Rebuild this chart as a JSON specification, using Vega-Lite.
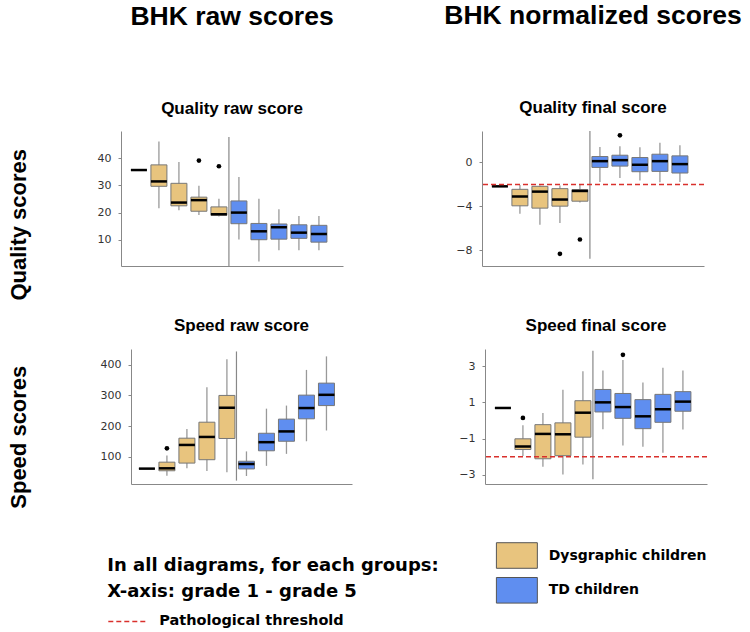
{
  "$schema": "https://vega.github.io/schema/vega-lite/v6.json",
  "padding": {"left": 7, "top": 2, "right": 0, "bottom": 0},
  "background": "white",
  "config": {
    "view": {"stroke": null},
    "font": "Liberation Sans",
    "axisY": {"grid": false, "tickSize": 3, "tickColor": "#888", "domainColor": "#888", "labelFont": "DejaVu Sans", "labelFontSize": 11, "labelColor": "#333", "labelPadding": 7, "titleFont": "Liberation Sans", "titleFontSize": 22, "titleFontWeight": "bold", "titleColor": "black", "titleAngle": 270, "titleBaseline": "alphabetic", "titleAlign": "center"},
    "axisX": {"grid": false, "ticks": false, "labels": false, "domainColor": "#888"},
    "title": {"font": "Liberation Sans", "fontWeight": "bold", "color": "black", "anchor": "middle", "frame": "group", "subtitleFont": "Liberation Sans", "subtitleFontWeight": "bold", "subtitleColor": "black", "subtitleFontSize": 17, "subtitlePadding": 71, "offset": 14}
  },
  "datasets": {
    "QR": [
      {"group": "Dysgraphic children", "grade": 1, "lo": 35.7, "q1": 35.7, "med": 35.7, "q3": 35.7, "hi": 35.7},
      {"group": "Dysgraphic children", "grade": 2, "lo": 21.6, "q1": 29.7, "med": 31.5, "q3": 37.6, "hi": 46.2},
      {"group": "Dysgraphic children", "grade": 3, "lo": 20.9, "q1": 22.5, "med": 23.7, "q3": 30.8, "hi": 38.7},
      {"group": "Dysgraphic children", "grade": 4, "lo": 19.1, "q1": 20.5, "med": 24.6, "q3": 25.7, "hi": 29.9},
      {"group": "Dysgraphic children", "grade": 5, "lo": 18.6, "q1": 19.0, "med": 19.4, "q3": 22.1, "hi": 25.1},
      {"group": "TD children", "grade": 1, "lo": 10.1, "q1": 15.9, "med": 20.0, "q3": 24.3, "hi": 33.1},
      {"group": "TD children", "grade": 2, "lo": 2.0, "q1": 10.0, "med": 13.1, "q3": 16.0, "hi": 25.1},
      {"group": "TD children", "grade": 3, "lo": 6.1, "q1": 10.2, "med": 14.6, "q3": 15.8, "hi": 21.2},
      {"group": "TD children", "grade": 4, "lo": 6.1, "q1": 10.5, "med": 12.6, "q3": 15.5, "hi": 18.7},
      {"group": "TD children", "grade": 5, "lo": 6.1, "q1": 9.1, "med": 12.1, "q3": 15.3, "hi": 18.7}
    ],
    "QR_out": [
      {"group": "Dysgraphic children", "grade": 4, "value": 39.2},
      {"group": "Dysgraphic children", "grade": 5, "value": 37.1}
    ],
    "QF": [
      {"group": "Dysgraphic children", "grade": 1, "lo": -2.17, "q1": -2.17, "med": -2.17, "q3": -2.17, "hi": -2.17},
      {"group": "Dysgraphic children", "grade": 2, "lo": -4.66, "q1": -3.94, "med": -3.10, "q3": -2.44, "hi": -2.05},
      {"group": "Dysgraphic children", "grade": 3, "lo": -5.65, "q1": -4.15, "med": -2.65, "q3": -2.17, "hi": -2.1},
      {"group": "Dysgraphic children", "grade": 4, "lo": -5.5, "q1": -3.97, "med": -3.37, "q3": -2.38, "hi": -2.1},
      {"group": "Dysgraphic children", "grade": 5, "lo": -3.64, "q1": -3.52, "med": -2.59, "q3": -2.47, "hi": -2.0},
      {"group": "TD children", "grade": 1, "lo": -1.77, "q1": -0.45, "med": 0.12, "q3": 0.54, "hi": 1.41},
      {"group": "TD children", "grade": 2, "lo": -1.41, "q1": -0.33, "med": 0.21, "q3": 0.66, "hi": 1.47},
      {"group": "TD children", "grade": 3, "lo": -1.65, "q1": -0.84, "med": -0.21, "q3": 0.45, "hi": 1.38},
      {"group": "TD children", "grade": 4, "lo": -1.8, "q1": -0.81, "med": 0.12, "q3": 0.75, "hi": 1.8},
      {"group": "TD children", "grade": 5, "lo": -1.77, "q1": -0.96, "med": -0.15, "q3": 0.6, "hi": 1.56}
    ],
    "QF_out": [
      {"group": "Dysgraphic children", "grade": 4, "value": -8.3},
      {"group": "Dysgraphic children", "grade": 5, "value": -7.0},
      {"group": "TD children", "grade": 2, "value": 2.47}
    ],
    "SR": [
      {"group": "Dysgraphic children", "grade": 1, "lo": 62, "q1": 62, "med": 62, "q3": 62, "hi": 62},
      {"group": "Dysgraphic children", "grade": 2, "lo": 39, "q1": 55, "med": 63, "q3": 83, "hi": 105},
      {"group": "Dysgraphic children", "grade": 3, "lo": 63, "q1": 80, "med": 139, "q3": 161, "hi": 191},
      {"group": "Dysgraphic children", "grade": 4, "lo": 54, "q1": 91, "med": 165, "q3": 213, "hi": 327},
      {"group": "Dysgraphic children", "grade": 5, "lo": 50, "q1": 160, "med": 260, "q3": 300, "hi": 418},
      {"group": "TD children", "grade": 1, "lo": 38, "q1": 61, "med": 77, "q3": 86, "hi": 118},
      {"group": "TD children", "grade": 2, "lo": 71, "q1": 120, "med": 148, "q3": 177, "hi": 257},
      {"group": "TD children", "grade": 3, "lo": 110, "q1": 151, "med": 183, "q3": 223, "hi": 267},
      {"group": "TD children", "grade": 4, "lo": 151, "q1": 224, "med": 259, "q3": 301, "hi": 383},
      {"group": "TD children", "grade": 5, "lo": 186, "q1": 267, "med": 302, "q3": 340, "hi": 427}
    ],
    "SR_out": [
      {"group": "Dysgraphic children", "grade": 2, "value": 128}
    ],
    "SF": [
      {"group": "Dysgraphic children", "grade": 1, "lo": 0.69, "q1": 0.69, "med": 0.69, "q3": 0.69, "hi": 0.69},
      {"group": "Dysgraphic children", "grade": 2, "lo": -1.96, "q1": -1.6, "med": -1.43, "q3": -1.01, "hi": -0.26},
      {"group": "Dysgraphic children", "grade": 3, "lo": -2.55, "q1": -2.11, "med": -0.74, "q3": -0.23, "hi": 0.41},
      {"group": "Dysgraphic children", "grade": 4, "lo": -2.97, "q1": -1.94, "med": -0.76, "q3": -0.13, "hi": 1.7},
      {"group": "Dysgraphic children", "grade": 5, "lo": -2.42, "q1": -0.92, "med": 0.43, "q3": 1.09, "hi": 2.72},
      {"group": "TD children", "grade": 1, "lo": -0.48, "q1": 0.47, "med": 1.0, "q3": 1.71, "hi": 2.76},
      {"group": "TD children", "grade": 2, "lo": -1.38, "q1": 0.12, "med": 0.74, "q3": 1.49, "hi": 3.34},
      {"group": "TD children", "grade": 3, "lo": -1.45, "q1": -0.45, "med": 0.23, "q3": 1.15, "hi": 2.1},
      {"group": "TD children", "grade": 4, "lo": -1.78, "q1": -0.1, "med": 0.62, "q3": 1.44, "hi": 2.9},
      {"group": "TD children", "grade": 5, "lo": -0.5, "q1": 0.51, "med": 1.04, "q3": 1.59, "hi": 2.76}
    ],
    "SF_out": [
      {"group": "Dysgraphic children", "grade": 2, "value": 0.14},
      {"group": "TD children", "grade": 2, "value": 3.62}
    ]
  },
  "spacing": 16,
  "columns": 1,
  "align": "none",
  "concat": [
    {
      "spacing": 101,
      "hconcat": [
        {
          "width": 222, "height": 135,
          "title": {"text": "BHK raw scores", "subtitle": "Quality raw score", "fontSize": 26.5},
          "data": {"name": "QR"},
          "layer": [
            {"data": {"values": [{}]}, "mark": {"type": "rule", "color": "#888", "strokeWidth": 1.2},
             "encoding": {"x": {"datum": "Dysgraphic children", "type": "nominal", "bandPosition": 1, "scale": {"type": "band", "domain": ["Dysgraphic children", "TD children"], "paddingInner": 0, "paddingOuter": 0.11, "align": 0.36}, "axis": {"title": null, "labels": false, "ticks": false, "domainColor": "#888"}},
                          "y": {"datum": 47.9, "type": "quantitative", "scale": {"domain": [0.3, 50.1], "nice": false, "zero": false}, "axis": {"values": [10, 20, 30, 40], "title": "Quality scores", "titleX": -95.7, "titleY": 93.3}}, "y2": {"datum": 0.3}}},
            {"mark": {"type": "rule", "color": "#999", "strokeWidth": 1.3},
             "encoding": {"x": {"field": "group", "type": "nominal", "scale": {"type": "band", "domain": ["Dysgraphic children", "TD children"], "paddingInner": 0, "paddingOuter": 0.11, "align": 0.36}, "axis": {"title": null, "labels": false, "ticks": false, "domainColor": "#888"}},
                          "xOffset": {"field": "grade", "type": "ordinal", "scale": {"type": "band", "domain": [1, 2, 3, 4, 5], "paddingInner": 0.2, "paddingOuter": 0.1}},
                          "y": {"field": "lo", "type": "quantitative", "scale": {"domain": [0.3, 50.1], "nice": false, "zero": false}, "axis": {"values": [10, 20, 30, 40], "title": "Quality scores", "titleX": -95.7, "titleY": 93.3}},
                          "y2": {"field": "hi"}}},
            {"mark": {"type": "bar", "stroke": "#777", "strokeWidth": 1},
             "encoding": {"x": {"field": "group", "type": "nominal", "scale": {"type": "band", "domain": ["Dysgraphic children", "TD children"], "paddingInner": 0, "paddingOuter": 0.11, "align": 0.36}, "axis": {"title": null, "labels": false, "ticks": false, "domainColor": "#888"}},
                          "xOffset": {"field": "grade", "type": "ordinal", "scale": {"type": "band", "domain": [1, 2, 3, 4, 5], "paddingInner": 0.2, "paddingOuter": 0.1}},
                          "y": {"field": "q1", "type": "quantitative", "scale": {"domain": [0.3, 50.1], "nice": false, "zero": false}, "axis": {"values": [10, 20, 30, 40], "title": "Quality scores", "titleX": -95.7, "titleY": 93.3}},
                          "y2": {"field": "q3"},
                          "fill": {"field": "group", "type": "nominal", "scale": {"domain": ["Dysgraphic children", "TD children"], "range": ["#E8C47E", "#5F8EF0"]},
                                   "legend": {"title": null, "orient": "none", "legendX": 374.7, "legendY": 411, "padding": 0, "symbolType": "M-1,-1L2.2,-1L2.2,1L-1,1Z", "symbolSize": 655, "symbolStrokeColor": "#555", "symbolStrokeWidth": 1, "symbolOpacity": 1, "labelFont": "DejaVu Sans", "labelFontSize": 14, "labelFontWeight": "bold", "labelColor": "black", "labelOffset": 26, "labelLimit": 400, "rowPadding": 3.8}}}},
            {"mark": {"type": "tick", "color": "black", "orient": "horizontal", "size": 16, "thickness": 2.5, "opacity": 1},
             "encoding": {"x": {"field": "group", "type": "nominal", "scale": {"type": "band", "domain": ["Dysgraphic children", "TD children"], "paddingInner": 0, "paddingOuter": 0.11, "align": 0.36}, "axis": {"title": null, "labels": false, "ticks": false, "domainColor": "#888"}},
                          "xOffset": {"field": "grade", "type": "ordinal", "scale": {"type": "band", "domain": [1, 2, 3, 4, 5], "paddingInner": 0.2, "paddingOuter": 0.1}},
                          "y": {"field": "med", "type": "quantitative", "scale": {"domain": [0.3, 50.1], "nice": false, "zero": false}, "axis": {"values": [10, 20, 30, 40], "title": "Quality scores", "titleX": -95.7, "titleY": 93.3}}}},
            {"data": {"name": "QR_out"}, "mark": {"type": "point", "filled": true, "color": "black", "size": 22, "opacity": 1},
             "encoding": {"x": {"field": "group", "type": "nominal", "scale": {"type": "band", "domain": ["Dysgraphic children", "TD children"], "paddingInner": 0, "paddingOuter": 0.11, "align": 0.36}, "axis": {"title": null, "labels": false, "ticks": false, "domainColor": "#888"}},
                          "xOffset": {"field": "grade", "type": "ordinal", "scale": {"type": "band", "domain": [1, 2, 3, 4, 5], "paddingInner": 0.2, "paddingOuter": 0.1}},
                          "y": {"field": "value", "type": "quantitative", "scale": {"domain": [0.3, 50.1], "nice": false, "zero": false}, "axis": {"values": [10, 20, 30, 40], "title": "Quality scores", "titleX": -95.7, "titleY": 93.3}}}}
          ]
        },
        {
          "width": 222, "height": 135,
          "title": {"text": "BHK normalized scores", "subtitle": "Quality final score", "fontSize": 26.5},
          "data": {"name": "QF"},
          "layer": [
            {"data": {"values": [{}]}, "mark": {"type": "rule", "color": "#888", "strokeWidth": 1.2},
             "encoding": {"x": {"datum": "Dysgraphic children", "type": "nominal", "bandPosition": 1, "scale": {"type": "band", "domain": ["Dysgraphic children", "TD children"], "paddingInner": 0, "paddingOuter": 0.11, "align": 0.36}, "axis": {"title": null, "labels": false, "ticks": false, "domainColor": "#888"}},
                          "y": {"datum": 2.86, "type": "quantitative", "scale": {"domain": [-9.41, 2.86], "nice": false, "zero": false}, "axis": {"values": [-8, -4, 0], "title": null}}, "y2": {"datum": -8.75}}},
            {"mark": {"type": "rule", "color": "#999", "strokeWidth": 1.3},
             "encoding": {"x": {"field": "group", "type": "nominal", "scale": {"type": "band", "domain": ["Dysgraphic children", "TD children"], "paddingInner": 0, "paddingOuter": 0.11, "align": 0.36}, "axis": {"title": null, "labels": false, "ticks": false, "domainColor": "#888"}},
                          "xOffset": {"field": "grade", "type": "ordinal", "scale": {"type": "band", "domain": [1, 2, 3, 4, 5], "paddingInner": 0.2, "paddingOuter": 0.1}},
                          "y": {"field": "lo", "type": "quantitative", "scale": {"domain": [-9.41, 2.86], "nice": false, "zero": false}, "axis": {"values": [-8, -4, 0], "title": null}},
                          "y2": {"field": "hi"}}},
            {"mark": {"type": "bar", "stroke": "#777", "strokeWidth": 1},
             "encoding": {"x": {"field": "group", "type": "nominal", "scale": {"type": "band", "domain": ["Dysgraphic children", "TD children"], "paddingInner": 0, "paddingOuter": 0.11, "align": 0.36}, "axis": {"title": null, "labels": false, "ticks": false, "domainColor": "#888"}},
                          "xOffset": {"field": "grade", "type": "ordinal", "scale": {"type": "band", "domain": [1, 2, 3, 4, 5], "paddingInner": 0.2, "paddingOuter": 0.1}},
                          "y": {"field": "q1", "type": "quantitative", "scale": {"domain": [-9.41, 2.86], "nice": false, "zero": false}, "axis": {"values": [-8, -4, 0], "title": null}},
                          "y2": {"field": "q3"},
                          "fill": {"field": "group", "type": "nominal", "scale": {"domain": ["Dysgraphic children", "TD children"], "range": ["#E8C47E", "#5F8EF0"]},
                                   "legend": {"title": null, "orient": "none", "legendX": 374.7, "legendY": 411, "padding": 0, "symbolType": "M-1,-1L2.2,-1L2.2,1L-1,1Z", "symbolSize": 655, "symbolStrokeColor": "#555", "symbolStrokeWidth": 1, "symbolOpacity": 1, "labelFont": "DejaVu Sans", "labelFontSize": 14, "labelFontWeight": "bold", "labelColor": "black", "labelOffset": 26, "labelLimit": 400, "rowPadding": 3.8}}}},
            {"mark": {"type": "tick", "color": "black", "orient": "horizontal", "size": 16, "thickness": 2.5, "opacity": 1},
             "encoding": {"x": {"field": "group", "type": "nominal", "scale": {"type": "band", "domain": ["Dysgraphic children", "TD children"], "paddingInner": 0, "paddingOuter": 0.11, "align": 0.36}, "axis": {"title": null, "labels": false, "ticks": false, "domainColor": "#888"}},
                          "xOffset": {"field": "grade", "type": "ordinal", "scale": {"type": "band", "domain": [1, 2, 3, 4, 5], "paddingInner": 0.2, "paddingOuter": 0.1}},
                          "y": {"field": "med", "type": "quantitative", "scale": {"domain": [-9.41, 2.86], "nice": false, "zero": false}, "axis": {"values": [-8, -4, 0], "title": null}}}},
            {"data": {"name": "QF_out"}, "mark": {"type": "point", "filled": true, "color": "black", "size": 22, "opacity": 1},
             "encoding": {"x": {"field": "group", "type": "nominal", "scale": {"type": "band", "domain": ["Dysgraphic children", "TD children"], "paddingInner": 0, "paddingOuter": 0.11, "align": 0.36}, "axis": {"title": null, "labels": false, "ticks": false, "domainColor": "#888"}},
                          "xOffset": {"field": "grade", "type": "ordinal", "scale": {"type": "band", "domain": [1, 2, 3, 4, 5], "paddingInner": 0.2, "paddingOuter": 0.1}},
                          "y": {"field": "value", "type": "quantitative", "scale": {"domain": [-9.41, 2.86], "nice": false, "zero": false}, "axis": {"values": [-8, -4, 0], "title": null}}}},
            {"data": {"values": [{}]}, "mark": {"type": "rule", "strokeDash": [5, 3], "strokeWidth": 1.5},
             "encoding": {"y": {"datum": -2, "type": "quantitative", "scale": {"domain": [-9.41, 2.86], "nice": false, "zero": false}, "axis": {"values": [-8, -4, 0], "title": null}},
                          "stroke": {"datum": "Pathological threshold", "type": "nominal", "scale": {"range": ["#D9302C"]},
                                     "legend": {"title": ["In all diagrams, for each groups:", "X-axis: grade 1 - grade 5"], "titleFont": "DejaVu Sans", "titleFontSize": 18, "titleFontWeight": "bold", "titleColor": "black", "titleLineHeight": 26, "titlePadding": 10, "titleLimit": 600, "orient": "none", "legendX": -13.7, "legendY": 425.9, "padding": 0, "symbolType": "M-1,0L3,0", "symbolSize": 361, "symbolDash": [5, 3], "symbolStrokeWidth": 1.5, "labelFont": "DejaVu Sans", "labelFontSize": 14.5, "labelFontWeight": "bold", "labelColor": "black", "labelOffset": 31, "labelLimit": 400}}}}
          ]
        }
      ]
    },
    {
      "spacing": 106,
      "hconcat": [
        {
          "width": 231, "height": 135,
          "title": {"text": "Speed raw score", "fontSize": 17, "dx": 5},
          "data": {"name": "SR"},
          "layer": [
            {"data": {"values": [{}]}, "mark": {"type": "rule", "color": "#888", "strokeWidth": 1.2},
             "encoding": {"x": {"datum": "Dysgraphic children", "type": "nominal", "bandPosition": 1, "scale": {"type": "band", "domain": ["Dysgraphic children", "TD children"], "range": [10, 231], "paddingInner": 0, "paddingOuter": 0.11, "align": 0.27}, "axis": {"title": null, "labels": false, "ticks": false, "domainColor": "#888"}},
                          "y": {"datum": 443, "type": "quantitative", "scale": {"domain": [12, 451], "nice": false, "zero": false}, "axis": {"values": [100, 200, 300, 400], "offset": -10, "title": "Speed scores", "titleX": -105.7, "titleY": 87.7}}, "y2": {"datum": 23}}},
            {"mark": {"type": "rule", "color": "#999", "strokeWidth": 1.3},
             "encoding": {"x": {"field": "group", "type": "nominal", "scale": {"type": "band", "domain": ["Dysgraphic children", "TD children"], "range": [10, 231], "paddingInner": 0, "paddingOuter": 0.11, "align": 0.27}, "axis": {"title": null, "labels": false, "ticks": false, "domainColor": "#888"}},
                          "xOffset": {"field": "grade", "type": "ordinal", "scale": {"type": "band", "domain": [1, 2, 3, 4, 5], "paddingInner": 0.2, "paddingOuter": 0.1}},
                          "y": {"field": "lo", "type": "quantitative", "scale": {"domain": [12, 451], "nice": false, "zero": false}, "axis": {"values": [100, 200, 300, 400], "offset": -10, "title": "Speed scores", "titleX": -105.7, "titleY": 87.7}},
                          "y2": {"field": "hi"}}},
            {"mark": {"type": "bar", "stroke": "#777", "strokeWidth": 1},
             "encoding": {"x": {"field": "group", "type": "nominal", "scale": {"type": "band", "domain": ["Dysgraphic children", "TD children"], "range": [10, 231], "paddingInner": 0, "paddingOuter": 0.11, "align": 0.27}, "axis": {"title": null, "labels": false, "ticks": false, "domainColor": "#888"}},
                          "xOffset": {"field": "grade", "type": "ordinal", "scale": {"type": "band", "domain": [1, 2, 3, 4, 5], "paddingInner": 0.2, "paddingOuter": 0.1}},
                          "y": {"field": "q1", "type": "quantitative", "scale": {"domain": [12, 451], "nice": false, "zero": false}, "axis": {"values": [100, 200, 300, 400], "offset": -10, "title": "Speed scores", "titleX": -105.7, "titleY": 87.7}},
                          "y2": {"field": "q3"},
                          "fill": {"field": "group", "type": "nominal", "scale": {"domain": ["Dysgraphic children", "TD children"], "range": ["#E8C47E", "#5F8EF0"]},
                                   "legend": {"title": null, "orient": "none", "legendX": 374.7, "legendY": 411, "padding": 0, "symbolType": "M-1,-1L2.2,-1L2.2,1L-1,1Z", "symbolSize": 655, "symbolStrokeColor": "#555", "symbolStrokeWidth": 1, "symbolOpacity": 1, "labelFont": "DejaVu Sans", "labelFontSize": 14, "labelFontWeight": "bold", "labelColor": "black", "labelOffset": 26, "labelLimit": 400, "rowPadding": 3.8}}}},
            {"mark": {"type": "tick", "color": "black", "orient": "horizontal", "size": 16, "thickness": 2.5, "opacity": 1},
             "encoding": {"x": {"field": "group", "type": "nominal", "scale": {"type": "band", "domain": ["Dysgraphic children", "TD children"], "range": [10, 231], "paddingInner": 0, "paddingOuter": 0.11, "align": 0.27}, "axis": {"title": null, "labels": false, "ticks": false, "domainColor": "#888"}},
                          "xOffset": {"field": "grade", "type": "ordinal", "scale": {"type": "band", "domain": [1, 2, 3, 4, 5], "paddingInner": 0.2, "paddingOuter": 0.1}},
                          "y": {"field": "med", "type": "quantitative", "scale": {"domain": [12, 451], "nice": false, "zero": false}, "axis": {"values": [100, 200, 300, 400], "offset": -10, "title": "Speed scores", "titleX": -105.7, "titleY": 87.7}}}},
            {"data": {"name": "SR_out"}, "mark": {"type": "point", "filled": true, "color": "black", "size": 22, "opacity": 1},
             "encoding": {"x": {"field": "group", "type": "nominal", "scale": {"type": "band", "domain": ["Dysgraphic children", "TD children"], "range": [10, 231], "paddingInner": 0, "paddingOuter": 0.11, "align": 0.27}, "axis": {"title": null, "labels": false, "ticks": false, "domainColor": "#888"}},
                          "xOffset": {"field": "grade", "type": "ordinal", "scale": {"type": "band", "domain": [1, 2, 3, 4, 5], "paddingInner": 0.2, "paddingOuter": 0.1}},
                          "y": {"field": "value", "type": "quantitative", "scale": {"domain": [12, 451], "nice": false, "zero": false}, "axis": {"values": [100, 200, 300, 400], "offset": -10, "title": "Speed scores", "titleX": -105.7, "titleY": 87.7}}}}
          ]
        },
        {
          "width": 222, "height": 135,
          "title": {"text": "Speed final score", "fontSize": 17},
          "data": {"name": "SF"},
          "layer": [
            {"data": {"values": [{}]}, "mark": {"type": "rule", "color": "#888", "strokeWidth": 1.2},
             "encoding": {"x": {"datum": "Dysgraphic children", "type": "nominal", "bandPosition": 1, "scale": {"type": "band", "domain": ["Dysgraphic children", "TD children"], "paddingInner": 0, "paddingOuter": 0.11, "align": 0.36}, "axis": {"title": null, "labels": false, "ticks": false, "domainColor": "#888"}},
                          "y": {"datum": 3.85, "type": "quantitative", "scale": {"domain": [-3.5, 3.94], "nice": false, "zero": false}, "axis": {"values": [-3, -1, 1, 3], "title": null}}, "y2": {"datum": -3.24}}},
            {"mark": {"type": "rule", "color": "#999", "strokeWidth": 1.3},
             "encoding": {"x": {"field": "group", "type": "nominal", "scale": {"type": "band", "domain": ["Dysgraphic children", "TD children"], "paddingInner": 0, "paddingOuter": 0.11, "align": 0.36}, "axis": {"title": null, "labels": false, "ticks": false, "domainColor": "#888"}},
                          "xOffset": {"field": "grade", "type": "ordinal", "scale": {"type": "band", "domain": [1, 2, 3, 4, 5], "paddingInner": 0.2, "paddingOuter": 0.1}},
                          "y": {"field": "lo", "type": "quantitative", "scale": {"domain": [-3.5, 3.94], "nice": false, "zero": false}, "axis": {"values": [-3, -1, 1, 3], "title": null}},
                          "y2": {"field": "hi"}}},
            {"mark": {"type": "bar", "stroke": "#777", "strokeWidth": 1},
             "encoding": {"x": {"field": "group", "type": "nominal", "scale": {"type": "band", "domain": ["Dysgraphic children", "TD children"], "paddingInner": 0, "paddingOuter": 0.11, "align": 0.36}, "axis": {"title": null, "labels": false, "ticks": false, "domainColor": "#888"}},
                          "xOffset": {"field": "grade", "type": "ordinal", "scale": {"type": "band", "domain": [1, 2, 3, 4, 5], "paddingInner": 0.2, "paddingOuter": 0.1}},
                          "y": {"field": "q1", "type": "quantitative", "scale": {"domain": [-3.5, 3.94], "nice": false, "zero": false}, "axis": {"values": [-3, -1, 1, 3], "title": null}},
                          "y2": {"field": "q3"},
                          "fill": {"field": "group", "type": "nominal", "scale": {"domain": ["Dysgraphic children", "TD children"], "range": ["#E8C47E", "#5F8EF0"]},
                                   "legend": {"title": null, "orient": "none", "legendX": 374.7, "legendY": 411, "padding": 0, "symbolType": "M-1,-1L2.2,-1L2.2,1L-1,1Z", "symbolSize": 655, "symbolStrokeColor": "#555", "symbolStrokeWidth": 1, "symbolOpacity": 1, "labelFont": "DejaVu Sans", "labelFontSize": 14, "labelFontWeight": "bold", "labelColor": "black", "labelOffset": 26, "labelLimit": 400, "rowPadding": 3.8}}}},
            {"mark": {"type": "tick", "color": "black", "orient": "horizontal", "size": 16, "thickness": 2.5, "opacity": 1},
             "encoding": {"x": {"field": "group", "type": "nominal", "scale": {"type": "band", "domain": ["Dysgraphic children", "TD children"], "paddingInner": 0, "paddingOuter": 0.11, "align": 0.36}, "axis": {"title": null, "labels": false, "ticks": false, "domainColor": "#888"}},
                          "xOffset": {"field": "grade", "type": "ordinal", "scale": {"type": "band", "domain": [1, 2, 3, 4, 5], "paddingInner": 0.2, "paddingOuter": 0.1}},
                          "y": {"field": "med", "type": "quantitative", "scale": {"domain": [-3.5, 3.94], "nice": false, "zero": false}, "axis": {"values": [-3, -1, 1, 3], "title": null}}}},
            {"data": {"name": "SF_out"}, "mark": {"type": "point", "filled": true, "color": "black", "size": 22, "opacity": 1},
             "encoding": {"x": {"field": "group", "type": "nominal", "scale": {"type": "band", "domain": ["Dysgraphic children", "TD children"], "paddingInner": 0, "paddingOuter": 0.11, "align": 0.36}, "axis": {"title": null, "labels": false, "ticks": false, "domainColor": "#888"}},
                          "xOffset": {"field": "grade", "type": "ordinal", "scale": {"type": "band", "domain": [1, 2, 3, 4, 5], "paddingInner": 0.2, "paddingOuter": 0.1}},
                          "y": {"field": "value", "type": "quantitative", "scale": {"domain": [-3.5, 3.94], "nice": false, "zero": false}, "axis": {"values": [-3, -1, 1, 3], "title": null}}}},
            {"data": {"values": [{}]}, "mark": {"type": "rule", "strokeDash": [5, 3], "strokeWidth": 1.5},
             "encoding": {"y": {"datum": -2, "type": "quantitative", "scale": {"domain": [-3.5, 3.94], "nice": false, "zero": false}, "axis": {"values": [-3, -1, 1, 3], "title": null}},
                          "stroke": {"datum": "Pathological threshold", "type": "nominal", "scale": {"range": ["#D9302C"]},
                                     "legend": {"title": ["In all diagrams, for each groups:", "X-axis: grade 1 - grade 5"], "titleFont": "DejaVu Sans", "titleFontSize": 18, "titleFontWeight": "bold", "titleColor": "black", "titleLineHeight": 26, "titlePadding": 10, "titleLimit": 600, "orient": "none", "legendX": -13.7, "legendY": 425.9, "padding": 0, "symbolType": "M-1,0L3,0", "symbolSize": 361, "symbolDash": [5, 3], "symbolStrokeWidth": 1.5, "labelFont": "DejaVu Sans", "labelFontSize": 14.5, "labelFontWeight": "bold", "labelColor": "black", "labelOffset": 31, "labelLimit": 400}}}}
          ]
        }
      ]
    }
  ]
}
